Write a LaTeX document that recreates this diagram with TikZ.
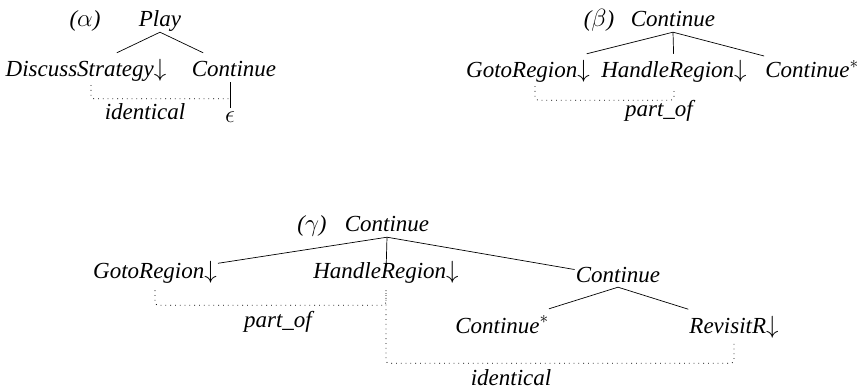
\documentclass[tikz,border=0pt]{standalone}
\usepackage{fontspec}
\setmainfont{Liberation Serif}
\usetikzlibrary{positioning}

\tikzset{
  tn/.style={font=\fontsize{23}{27}\selectfont\itshape, anchor=base,
    inner xsep=1pt, inner ysep=0pt, text height=15pt, text depth=5pt},
  leaf/.style={tn, text height=24pt},
  br/.style={line width=0.7pt},
  link/.style={line width=0.8pt, dash pattern=on 0.8pt off 4pt, rounded corners=3pt},
}

\begin{document}
\begin{tikzpicture}[x=1pt,y=-1pt]
\useasboundingbox (0,0) rectangle (862,390);

% (alpha)
\node[tn] (alab) at (85,27) {($\alpha$)};
\node[tn] (play) at (160,27) {Play};
\node[leaf] (ds1) at (86,77) {DiscussStrategy$\downarrow$};
\node[leaf] (cont1) at (234,77) {Continue};
\node[tn] (eps1) at (230,123) {$\epsilon$};
\node[tn] (ident1) at (145,120) {identical};
\draw[br] (play.south) -- (ds1);
\draw[br] (play.south) -- (cont1);
\draw[br] (eps1.north) -- (eps1.north |- cont1.south);
\draw[link] ([xshift=5pt,yshift=-3pt]ds1.south) |- ([yshift=9pt]eps1.north);

% (beta)
\node[tn] (blab) at (599,27) {($\beta$)};
\node[tn] (cont2) at (673,27) {Continue};
\node[leaf] (goto2) at (528,78) {GotoRegion$\downarrow$};
\node[leaf] (hr2) at (674,78) {HandleRegion$\downarrow$};
\node[leaf] (star2) at (812,78) {Continue$^*$};
\node[tn] (part2) at (659,117) {part\_of};
\draw[br] (cont2.south) -- (goto2);
\draw[br] (cont2.south) -- (hr2);
\draw[br] (cont2.south) -- (star2);
\draw[link] ([xshift=7pt,yshift=-3pt]goto2.south) |- ([yshift=-17pt]hr2.south) -- ([yshift=-5pt]hr2.south);

% (gamma)
\node[tn] (glab) at (312,232) {($\gamma$)};
\node[tn] (cont3) at (387,232) {Continue};
\node[tn] (goto3) at (155,278) {GotoRegion$\downarrow$};
\node[tn] (hr3) at (386,278) {HandleRegion$\downarrow$};
\node[tn] (cont4) at (618,282) {Continue};
\node[leaf] (star3) at (502,333) {Continue$^*$};
\node[leaf] (rev3) at (734,333) {RevisitR$\downarrow$};
\node[tn] (part3) at (278,327) {part\_of};
\node[tn] (ident3) at (511,385) {identical};
\draw[br] (cont3.south) -- (goto3);
\draw[br] (cont3.south) -- (hr3);
\draw[br] (cont3.south) -- (cont4);
\draw[br] (cont4.south) -- (star3);
\draw[br] (cont4.south) -- (rev3);
\draw[link] ([yshift=-7pt]goto3.south) |- ([yshift=-22pt]hr3.south) -- ([yshift=-7pt]hr3.south);
\draw[link] ([yshift=-7pt]hr3.south) |- ([yshift=-25pt]rev3.south) -- ([yshift=-4pt]rev3.south);
\end{tikzpicture}
\end{document}
